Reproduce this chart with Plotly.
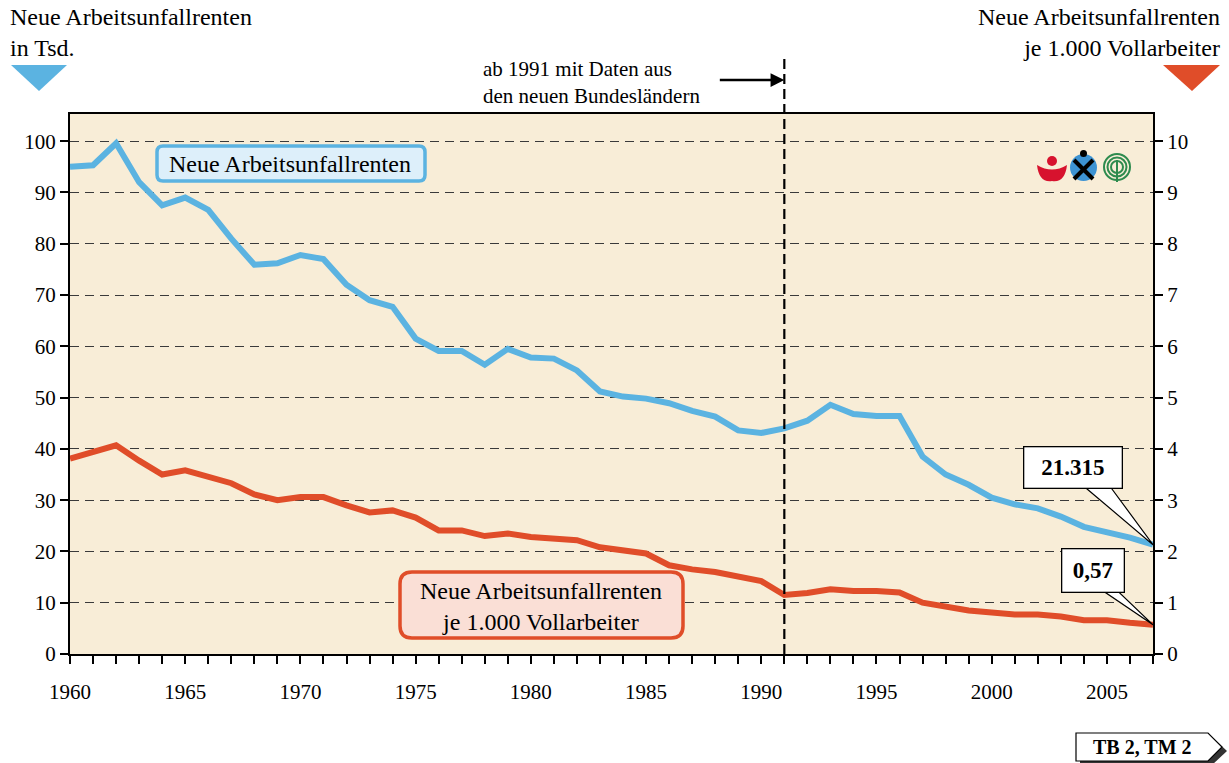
import plotly.graph_objects as go

years = list(range(1960, 2008))
renten_tsd = [95.0, 95.3, 99.6, 92.0, 87.5, 89.0, 86.6, 81.0, 75.9, 76.2,
              77.8, 77.0, 72.0, 69.0, 67.7, 61.5, 59.1, 59.1, 56.4, 59.5,
              57.8, 57.6, 55.3, 51.2, 50.2, 49.8, 48.9, 47.4, 46.3, 43.6,
              43.1, 44.0, 45.5, 48.6, 46.8, 46.4, 46.4, 38.5, 35.0, 33.0,
              30.5, 29.2, 28.4, 26.8, 24.8, 23.8, 22.7, 21.315]
renten_je_1000 = [3.81, 3.93, 4.07, 3.77, 3.50, 3.58, 3.44, 3.33, 3.11, 3.00,
                  3.06, 3.06, 2.90, 2.76, 2.80, 2.66, 2.41, 2.41, 2.30, 2.35,
                  2.28, 2.26, 2.22, 2.08, 2.02, 1.96, 1.73, 1.65, 1.60, 1.50,
                  1.42, 1.15, 1.19, 1.26, 1.23, 1.23, 1.20, 1.00, 0.92, 0.85,
                  0.81, 0.77, 0.77, 0.73, 0.66, 0.66, 0.61, 0.57]
left_ticks = list(range(0, 101, 10))
right_ticks = list(range(0, 11))
x_tick_years = list(range(1960, 2006, 5))
BREAK_YEAR = 1991
label_last_tsd = "21.315"
label_last_rate = "0,57"

BLUE = "#5BB3E1"
RED = "#E04D29"
BG = "#F8EDD7"
FONT = "Liberation Serif"
TXT = 24

W, H = 1229, 763
L, R, T, B = 70, 1153, 114, 654


def px(x):
    return (x - L) / (R - L)


def py(y):
    return (B - y) / (B - T)


def rrect(x0, y0, x1, y1, r):
    pts = (f"M {px(x0 + r)},{py(y0)} L {px(x1 - r)},{py(y0)} "
           f"Q {px(x1)},{py(y0)} {px(x1)},{py(y0 + r)} "
           f"L {px(x1)},{py(y1 - r)} Q {px(x1)},{py(y1)} {px(x1 - r)},{py(y1)} "
           f"L {px(x0 + r)},{py(y1)} Q {px(x0)},{py(y1)} {px(x0)},{py(y1 - r)} "
           f"L {px(x0)},{py(y0 + r)} Q {px(x0)},{py(y0)} {px(x0 + r)},{py(y0)} Z")
    return pts


def poly(points):
    return "M " + " L ".join(f"{px(a)},{py(b)}" for a, b in points) + " Z"


fig = go.Figure()
fig.add_trace(go.Scatter(x=years, y=renten_tsd, mode="lines",
                         line=dict(color=BLUE, width=6), yaxis="y",
                         name="Neue Arbeitsunfallrenten", hoverinfo="x+y"))
fig.add_trace(go.Scatter(x=years, y=renten_je_1000, mode="lines",
                         line=dict(color=RED, width=6), yaxis="y2",
                         name="je 1.000 Vollarbeiter", hoverinfo="x+y"))

shapes = []
annotations = []

# vertical break line
shapes.append(dict(type="line", xref="x", yref="paper", x0=BREAK_YEAR, x1=BREAK_YEAR,
                   y0=0, y1=py(58), line=dict(color="black", width=2.2, dash="10px,5px"),
                   layer="above"))
annotations.append(dict(xref="x", yref="paper", x=BREAK_YEAR, y=py(80), ax=-66, ay=0,
                        text="", showarrow=True, arrowhead=2, arrowsize=1.1,
                        arrowwidth=2.5, arrowcolor="black"))
annotations.append(dict(xref="paper", yref="paper", x=px(481), y=py(55),
                        xanchor="left", yanchor="top", align="left", showarrow=False,
                        text="ab 1991 mit Daten aus<br>den neuen Bundesländern",
                        font=dict(family=FONT, size=21, color="black")))

# axis titles and triangles
annotations.append(dict(xref="paper", yref="paper", x=px(8), y=py(2),
                        xanchor="left", yanchor="top", align="left", showarrow=False,
                        text="Neue Arbeitsunfallrenten<br>in Tsd.",
                        font=dict(family=FONT, size=TXT, color="black")))
annotations.append(dict(xref="paper", yref="paper", x=px(1222), y=py(2),
                        xanchor="right", yanchor="top", align="right", showarrow=False,
                        text="Neue Arbeitsunfallrenten<br>je 1.000 Vollarbeiter",
                        font=dict(family=FONT, size=TXT, color="black")))
shapes.append(dict(type="path", xref="paper", yref="paper",
                   path=poly([(11, 65), (67, 65), (39, 91)]),
                   fillcolor=BLUE, line=dict(width=0)))
shapes.append(dict(type="path", xref="paper", yref="paper",
                   path=poly([(1163, 65), (1220, 65), (1192, 91)]),
                   fillcolor=RED, line=dict(width=0)))

# legend boxes
shapes.append(dict(type="path", xref="paper", yref="paper",
                   path=rrect(157, 146, 425, 181, 6),
                   fillcolor="#DDEFFA", line=dict(color=BLUE, width=3.5), layer="above"))
annotations.append(dict(xref="paper", yref="paper", x=px(290), y=py(164),
                        xanchor="center", yanchor="middle",
                        showarrow=False, text="Neue Arbeitsunfallrenten",
                        font=dict(family=FONT, size=TXT, color="black")))
shapes.append(dict(type="path", xref="paper", yref="paper",
                   path=rrect(400, 572, 683, 638, 12),
                   fillcolor="#FADFD6", line=dict(color=RED, width=3.5), layer="above"))
annotations.append(dict(xref="paper", yref="paper", x=px(541), y=py(606),
                        xanchor="center", yanchor="middle",
                        showarrow=False, align="center",
                        text="Neue Arbeitsunfallrenten<br>je 1.000 Vollarbeiter",
                        font=dict(family=FONT, size=TXT, color="black")))

# callouts for last values
last_x = years[-1]
shapes.append(dict(type="path", xref="x", yref="y",
                   path=(f"M {last_x - 3.13},{33.2} L {last_x - 1.95},{33.2} "
                         f"L {last_x},{renten_tsd[-1]} Z"),
                   fillcolor="white", line=dict(color="black", width=1.2), layer="above"))
annotations.append(dict(xref="x", yref="y", x=last_x - 3.47, y=36.4, showarrow=False,
                        xanchor="center", yanchor="middle",
                        text=f"<b>{label_last_tsd}</b>", width=97, height=40,
                        bgcolor="white", bordercolor="black", borderwidth=1.3, borderpad=0,
                        font=dict(family=FONT, size=23, color="black")))
shapes.append(dict(type="path", xref="x", yref="y2",
                   path=(f"M {last_x - 2.4},{1.3} L {last_x - 1.7},{1.3} "
                         f"L {last_x},{renten_je_1000[-1]} Z"),
                   fillcolor="white", line=dict(color="black", width=1.2), layer="above"))
annotations.append(dict(xref="x", yref="y2", x=last_x - 2.6, y=1.634, showarrow=False,
                        xanchor="center", yanchor="middle",
                        text=f"<b>{label_last_rate}</b>", width=61, height=42,
                        bgcolor="white", bordercolor="black", borderwidth=1.3, borderpad=0,
                        font=dict(family=FONT, size=23, color="black")))

# logos (decoration)
shapes.append(dict(type="circle", xref="paper", yref="paper",
                   x0=px(1047), x1=px(1057), y0=py(156), y1=py(166),
                   fillcolor="#D7122E", line=dict(width=0), layer="above"))
shapes.append(dict(type="path", xref="paper", yref="paper",
                   path=(f"M {px(1037)},{py(165)} Q {px(1039)},{py(183)} {px(1052)},{py(181)} "
                         f"Q {px(1065)},{py(183)} {px(1067)},{py(165)} "
                         f"Q {px(1052)},{py(174)} {px(1037)},{py(165)} Z"),
                   fillcolor="#D7122E", line=dict(width=0), layer="above"))
shapes.append(dict(type="circle", xref="paper", yref="paper",
                   x0=px(1070), x1=px(1097), y0=py(154), y1=py(181),
                   fillcolor="#3D93D3", line=dict(width=0), layer="above"))
shapes.append(dict(type="line", xref="paper", yref="paper",
                   x0=px(1074), x1=px(1093), y0=py(160), y1=py(179),
                   line=dict(color="black", width=4), layer="above"))
shapes.append(dict(type="line", xref="paper", yref="paper",
                   x0=px(1093), x1=px(1074), y0=py(160), y1=py(179),
                   line=dict(color="black", width=4), layer="above"))
shapes.append(dict(type="circle", xref="paper", yref="paper",
                   x0=px(1080), x1=px(1087), y0=py(150), y1=py(157),
                   fillcolor="black", line=dict(width=0), layer="above"))
for rr in (13, 9.5, 6):
    shapes.append(dict(type="circle", xref="paper", yref="paper",
                       x0=px(1117 - rr), x1=px(1117 + rr), y0=py(167 - rr), y1=py(167 + rr),
                       fillcolor="rgba(0,0,0,0)", line=dict(color="#2E8B4E", width=2),
                       layer="above"))
shapes.append(dict(type="line", xref="paper", yref="paper",
                   x0=px(1117), x1=px(1117), y0=py(160), y1=py(182),
                   line=dict(color="#2E8B4E", width=2), layer="above"))

# TB tag bottom right
shapes.append(dict(type="path", xref="paper", yref="paper",
                   path=poly([(1080, 737), (1212, 737), (1227, 751), (1212, 765), (1080, 765)]),
                   fillcolor="#333333", line=dict(width=0)))
shapes.append(dict(type="path", xref="paper", yref="paper",
                   path=poly([(1076, 733), (1208, 733), (1222, 747), (1208, 761), (1076, 761)]),
                   fillcolor="white", line=dict(color="black", width=1.2)))
annotations.append(dict(xref="paper", yref="paper", x=px(1142), y=py(747),
                        xanchor="center", yanchor="middle",
                        showarrow=False, text="<b>TB 2, TM 2</b>",
                        font=dict(family=FONT, size=20, color="black")))

fig.update_layout(
    width=W, height=H,
    margin=dict(l=L, r=W - R, t=T, b=H - B),
    paper_bgcolor="white", plot_bgcolor=BG,
    showlegend=False,
    font=dict(family=FONT, size=21, color="black"),
    shapes=shapes, annotations=annotations,
    xaxis=dict(range=[1960, 2007], tickmode="array", tickvals=x_tick_years,
               ticktext=[str(v) for v in x_tick_years],
               ticks="outside", ticklen=8, tickwidth=1.5, tickcolor="black",
               minor=dict(tickmode="linear", tick0=1960, dtick=1, ticks="outside",
                          ticklen=8, tickwidth=1.5, tickcolor="black"),
               showline=True, linecolor="black", linewidth=2, mirror=True,
               showgrid=False, zeroline=False, ticklabelstandoff=10,
               tickfont=dict(family=FONT, size=21)),
    yaxis=dict(range=[0, 105.3], tickmode="array", tickvals=left_ticks,
               ticks="outside", ticklen=8, tickwidth=1.5, tickcolor="black",
               showline=True, linecolor="black", linewidth=2,
               showgrid=True, gridcolor="#3a3a3a", gridwidth=1.2, griddash="9px,6px",
               zeroline=False, tickfont=dict(family=FONT, size=21)),
    yaxis2=dict(range=[0, 10.53], tickmode="array", tickvals=right_ticks,
                overlaying="y", side="right",
                ticks="outside", ticklen=8, tickwidth=1.5, tickcolor="black",
                showline=True, linecolor="black", linewidth=2,
                showgrid=False, zeroline=False, tickfont=dict(family=FONT, size=21)),
)

fig.write_html("out.html", config={"displayModeBar": False},
               post_script="document.body.style.margin='0';")
